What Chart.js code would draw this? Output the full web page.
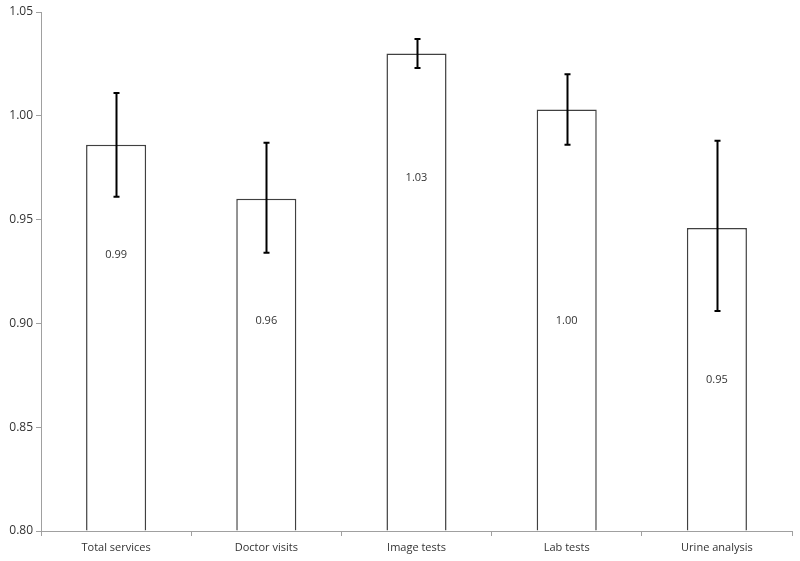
<!DOCTYPE html>
<html>
<head>
<meta charset="utf-8">
<script src="https://cdn.jsdelivr.net/npm/chart.js@4.4.0/dist/chart.umd.min.js"></script>
<style>
html,body{margin:0;padding:0;background:#fff;}
#wrap{width:800px;height:561px;}
</style>
</head>
<body>
<div id="wrap"><canvas id="c" width="800" height="561"></canvas></div>
<script>
const categories = ["Total services", "Doctor visits", "Image tests", "Lab tests", "Urine analysis"];
const values = [0.986, 0.960, 1.030, 1.003, 0.946];
const errLow = [0.961, 0.934, 1.023, 0.986, 0.906];
const errHigh = [1.011, 0.987, 1.037, 1.020, 0.988];
const valueLabels = ["0.99", "0.96", "1.03", "1.00", "0.95"];
const labelAt = [0.933, 0.901, 0.970, 0.901, 0.873];
const yTicks = [0.80, 0.85, 0.90, 0.95, 1.00, 1.05];

const FONT = "'Open Sans', 'DejaVu Sans', sans-serif";

const errorBarPlugin = {
  id: 'errorBars',
  afterDatasetsDraw(chart) {
    const ctx = chart.ctx;
    const meta = chart.getDatasetMeta(0);
    const y = chart.scales.y;
    ctx.save();
    meta.data.forEach((bar, i) => {
      const x = Math.round(bar.x) + 0.5;
      const yl = y.getPixelForValue(errLow[i]);
      const yh = y.getPixelForValue(errHigh[i]);
      ctx.strokeStyle = '#000';
      ctx.lineWidth = 2;
      ctx.beginPath();
      ctx.moveTo(x, yh); ctx.lineTo(x, yl);
      ctx.moveTo(x - 3, yh); ctx.lineTo(x + 3, yh);
      ctx.moveTo(x - 3, yl); ctx.lineTo(x + 3, yl);
      ctx.stroke();
      ctx.fillStyle = '#333';
      ctx.font = "11px " + FONT;
      ctx.textAlign = 'center';
      ctx.textBaseline = 'middle';
      ctx.fillText(valueLabels[i], bar.x, y.getPixelForValue(labelAt[i]));
    });
    ctx.restore();
  }
};

new Chart(document.getElementById('c'), {
  type: 'bar',
  data: {
    labels: categories,
    datasets: [{
      data: values,
      backgroundColor: '#ffffff',
      borderColor: '#404040',
      borderWidth: 1.5,
      barPercentage: 0.4,
      categoryPercentage: 1.0,
      base: 0.80
    }]
  },
  options: {
    responsive: false,
    animation: false,
    devicePixelRatio: 1,
    layout: { padding: { top: 12, right: 8, left: 0, bottom: 0 } },
    plugins: { legend: { display: false }, tooltip: { enabled: false } },
    scales: {
      x: {
        offset: true,
        grid: { offset: true, drawOnChartArea: false, drawTicks: true, tickLength: 5, color: '#a0a0a0' },
        border: { color: '#a0a0a0', width: 1 },
        ticks: { color: '#333', font: { size: 11, family: FONT }, padding: 5, maxRotation: 0 },
        afterFit(s) { s.height = 30; }
      },
      y: {
        min: 0.80, max: 1.05,
        grid: { drawOnChartArea: false, drawTicks: true, tickLength: 5, color: '#a0a0a0' },
        border: { color: '#a0a0a0', width: 1 },
        afterBuildTicks(s) { s.ticks = yTicks.map(v => ({ value: v })); },
        ticks: { color: '#333', font: { size: 12, family: FONT }, padding: 3,
          callback: v => Number(v).toFixed(2) },
        afterFit(s) { s.width = 41; }
      }
    }
  },
  plugins: [errorBarPlugin]
});
</script>
</body>
</html>
